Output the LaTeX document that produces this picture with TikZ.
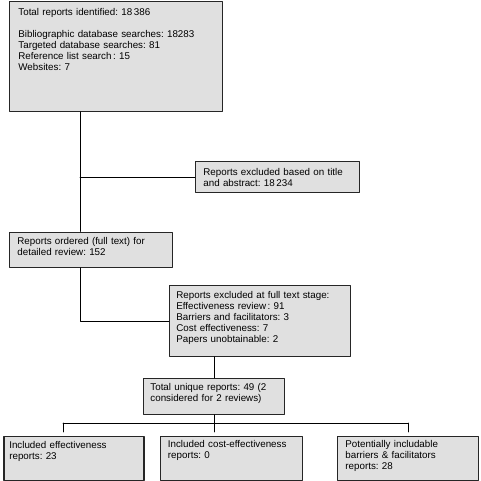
\documentclass[tikz,border=0pt]{standalone}
\usepackage{fontspec}
\setmainfont{Liberation Sans}
\definecolor{boxgray}{RGB}{224,224,224}
\frenchspacing
\begin{document}
\begin{tikzpicture}[line cap=round,line join=round,x=1pt,y=-1pt,
	box/.style={draw=black!85,line width=0.8pt,fill=boxgray,anchor=north west,align=left,inner ysep=0pt,font=\fontsize{9.8}{11}\selectfont},
	link/.style={line width=0.8pt}]
	\useasboundingbox (0,0) rectangle (481,481);
	\node[box,inner xsep=9pt,text width=195pt,text height=14pt,text depth=95.5pt] (ident) at (9,1.5) {Total reports identified: 18\,386\\[11pt]Bibliographic database searches: 18283\\Targeted database searches: 81\\Reference list search\,: 15\\Websites: 7};
	\node[box,inner xsep=8pt,text width=148pt,text height=13.7pt,text depth=17.3pt] (excl1) at (195,161) {Reports excluded based on title\\and abstract: 18\,234};
	\node[box,inner xsep=8pt,text width=147pt,text height=12.5pt,text depth=23pt] (ordered) at (9,231.5) {Reports ordered (full text) for\\detailed review: 152};
	\node[box,inner xsep=7pt,text width=167pt,text height=12.7pt,text depth=58.3pt] (fulltext) at (169,285) {Reports excluded at full text stage:\\Effectiveness review\,: 91\\Barriers and facilitators: 3\\Cost effectiveness: 7\\Papers unobtainable: 2};
	\node[box,inner xsep=7pt,text width=127pt,text height=12pt,text depth=24pt] (unique) at (143,378) {Total unique reports: 49 (2\\considered for 2 reviews)};
	\node[box,line width=1.6pt,inner xsep=5.5pt,text width=129pt,text height=12pt,text depth=32pt] (effect) at (3,435.5) {Included effectiveness\\reports: 23};
	\node[box,inner xsep=7.5pt,text width=127pt,text height=12pt,text depth=32pt] (cost) at (160,435.5) {Included cost-effectiveness\\reports: 0};
	\node[box,inner xsep=8pt,text width=125pt,text height=12pt,text depth=32pt] (barrier) at (337,435.5) {Potentially includable\\barriers \& facilitators\\reports: 28};
	\coordinate (trunk) at (80,0);
	\coordinate (busL) at (63,423);
	\coordinate (busR) at (408.5,423);
	\draw[link] (ident.south -| trunk) -- (ordered.north -| trunk);
	\draw[link] (excl1.west -| trunk) -- (excl1.west);
	\draw[link] (ordered.south -| trunk) -- (fulltext.west -| trunk) -- (fulltext.west);
	\draw[link] (fulltext.south -| unique.north) -- (unique.north);
	\draw[link] (unique.south) -- (unique.south |- busL);
	\draw[link] (busL) -- (busR);
	\draw[link] (busL) -- ++(0,9);
	\draw[link] (unique.south |- busL) -- ++(0,9);
	\draw[link] (busR) -- ++(0,9);
\end{tikzpicture}
\end{document}
